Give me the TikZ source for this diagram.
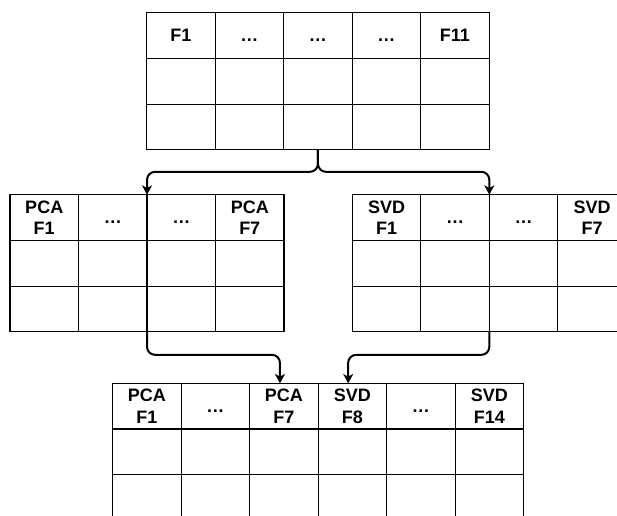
\documentclass[tikz,border=0pt]{standalone}
\usepackage{fontspec}
\setmainfont{Liberation Sans}
\usetikzlibrary{positioning,arrows.meta}

\begin{document}
\begin{tikzpicture}[
    x=0.75pt, y=-0.75pt,
    cell/.style={rectangle, draw, line width=0.8pt, minimum width=51.4pt, minimum height=34.3pt,
        inner sep=0pt, outer sep=0pt, align=center,
        font=\bfseries\fontsize{13.5}{16}\selectfont},
    flow/.style={-{Stealth[length=7pt, width=7.5pt, inset=2pt]}, line width=1.5pt, rounded corners=6pt}
]
    \useasboundingbox (0,0) rectangle (617,515);
    \clip (0,0) rectangle (617,515);

    % Original features
    \foreach \txt [count=\c] in {F1,…,…,…,F11}
        \node[cell] (top-1-\c) at ({146.7+68.5*(\c-0.5)},{12.7+45.7*0.5}) {\txt\vphantom{F}};
    \foreach \r in {2,3}
        \foreach \c in {1,...,5}
            \node[cell] (top-\r-\c) at ({146.7+68.5*(\c-0.5)},{12.7+45.7*(\r-0.5)}) {};

    % PCA features
    \foreach \txt [count=\c] in {{PCA\\F1},…,…,{PCA\\F7}}
        \node[cell] (pca-1-\c) at ({10+68.5*(\c-0.5)},{194.7+45.7*0.5}) {\txt\vphantom{F}};
    \foreach \r in {2,3}
        \foreach \c in {1,...,4}
            \node[cell] (pca-\r-\c) at ({10+68.5*(\c-0.5)},{194.7+45.7*(\r-0.5)}) {};

    % SVD features
    \foreach \txt [count=\c] in {{SVD\\F1},…,…,{SVD\\F7}}
        \node[cell] (svd-1-\c) at ({352.3+68.5*(\c-0.5)},{194.7+45.7*0.5}) {\txt\vphantom{F}};
    \foreach \r in {2,3}
        \foreach \c in {1,...,4}
            \node[cell] (svd-\r-\c) at ({352.3+68.5*(\c-0.5)},{194.7+45.7*(\r-0.5)}) {};

    % Combined features
    \foreach \txt [count=\c] in {{PCA\\F1},…,{PCA\\F7},{SVD\\F8},…,{SVD\\F14}}
        \node[cell] (all-1-\c) at ({112.7+68.5*(\c-0.5)},{383.3+45.7*0.5}) {\txt\vphantom{F}};
    \foreach \r in {2,3}
        \foreach \c in {1,...,6}
            \node[cell] (all-\r-\c) at ({112.7+68.5*(\c-0.5)},{383.3+45.7*(\r-0.5)}) {};

    % Arrows
    \draw[flow] (top-3-3.south) -- ++(0,22) -| (pca-1-2.north east);
    \draw[flow] (top-3-3.south) -- ++(0,22) -| (svd-1-2.north east);
    \draw[flow] (pca-3-2.south east) -- ++(0,23) -| ([xshift=-3pt]all-1-3.north);
    \draw[flow] (svd-3-2.south east) -- ++(0,23) -| ([xshift=-3.2pt]all-1-4.north);
\end{tikzpicture}
\end{document}
